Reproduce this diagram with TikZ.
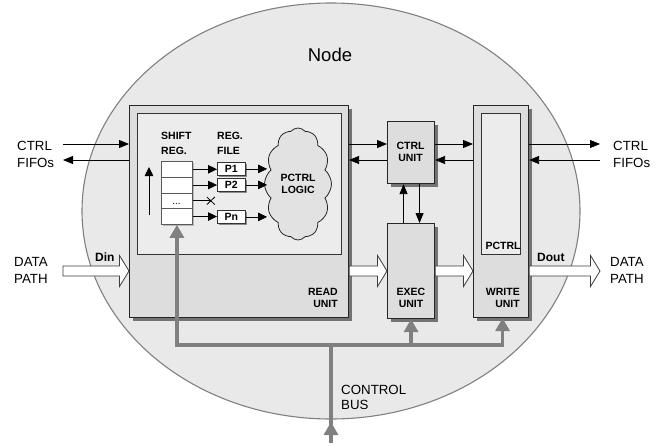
\documentclass[tikz,border=0pt]{standalone}
\usepackage{fontspec}
\setmainfont{Liberation Sans}
\usetikzlibrary{arrows.meta,shapes.geometric,shapes.symbols,shadows,calc}
\definecolor{ellfill}{RGB}{233,233,233}
\definecolor{unitfill}{RGB}{221,221,221}
\definecolor{innerfill}{RGB}{236,236,236}
\definecolor{cloudfill}{RGB}{226,226,226}
\definecolor{shadowgray}{RGB}{115,115,115}
\definecolor{lightshadow}{RGB}{185,185,185}
\definecolor{busgray}{RGB}{128,128,128}
\definecolor{edgegray}{RGB}{128,128,128}
\definecolor{fatedge}{RGB}{60,60,60}
\newcommand\fatarrow[2]{%
  \draw[fatarr] let \p1=(#1), \p2=(#2) in
    (\x1,{\y1+5pt}) -- ({\x2-9.5pt},{\y1+5pt}) -- ({\x2-9.5pt},{\y1+15.5pt})
    -- (\x2,\y1) -- ({\x2-9.5pt},{\y1-15.5pt}) -- ({\x2-9.5pt},{\y1-5pt})
    -- (\x1,{\y1-5pt}) -- cycle;}
\begin{document}
\begin{tikzpicture}[x=1pt,y=-1pt,
  lab/.style={font=\fontsize{13.3}{17}\selectfont, align=left, inner sep=0pt},
  blab/.style={font=\fontsize{10.5}{12}\selectfont\bfseries, inner sep=0pt},
  dlab/.style={font=\fontsize{12}{14}\selectfont\bfseries, inner sep=0pt},
  unit/.style={draw=black!85, line width=1.1pt, fill=unitfill, anchor=north west,
    inner sep=0pt, drop shadow={shadow xshift=3pt,shadow yshift=-3pt,fill=shadowgray,opacity=1}},
  innerbox/.style={draw=black!80, line width=0.9pt, fill=innerfill, anchor=north west, inner sep=0pt},
  cell/.style={draw=black!65, line width=0.8pt, fill=white, anchor=north west, inner sep=0pt,
    minimum width=31pt, minimum height=15.75pt,
    drop shadow={shadow xshift=1.5pt,shadow yshift=-1.5pt,fill=lightshadow,opacity=1}},
  preg/.style={draw=black!80, line width=0.8pt, fill=white, anchor=north west, inner sep=0pt,
    minimum width=28pt, minimum height=13pt, font=\fontsize{10.5}{12}\selectfont\bfseries,
    drop shadow={shadow xshift=1.5pt,shadow yshift=-1.5pt,fill=black!45,opacity=1}},
  thinarr/.style={-{Triangle[length=10pt,width=8pt]}, line width=0.8pt, black},
  smallarr/.style={-{Triangle[length=9pt,width=8.5pt]}, line width=0.8pt, black},
  fatarr/.style={draw=fatedge, line width=0.8pt, fill=white, line join=miter},
  bus/.style={draw=busgray, line width=3.2pt},
  busarr/.style={bus, -{Triangle[length=13pt,width=14pt]}},
]
\useasboundingbox (0,0) rectangle (662,445);

% enclosing node
\node[ellipse, draw=edgegray, line width=1.1pt, fill=ellfill, minimum width=498pt,
  minimum height=416pt, inner sep=0pt] (nodeell) at (331,211) {};
\node[font=\fontsize{18.5}{22}\selectfont, inner sep=0pt] (title) at (330,55) {Node};

% units
\node[unit, minimum width=219pt, minimum height=212pt] (read) at (129,105) {};
\node[innerbox, minimum width=204pt, minimum height=141pt] (readin) at (137,113) {};
\node[unit, minimum width=47pt, minimum height=62pt] (ctrl) at (387,121) {};
\node[unit, minimum width=47pt, minimum height=95pt] (exec) at (387,223) {};
\node[unit, minimum width=55pt, minimum height=212pt] (write) at (473,105) {};
\node[innerbox, minimum width=39pt, minimum height=141pt] (writein) at (481,113) {};

% unit labels
\node[blab, align=center] (ctrllab) at (410.5,151.5) {CTRL\\UNIT};
\node[blab, align=right, anchor=east] (readlab) at (338,298) {READ\\UNIT};
\node[blab, align=center] (execlab) at (411,298) {EXEC\\UNIT};
\node[blab, align=right, anchor=east] (writelab) at (520,298) {WRITE\\UNIT};
\node[blab] (pctrlw) at (503,246) {PCTRL};

% shift register and register file
\node[blab, align=left, anchor=west, font=\fontsize{10.5}{15}\selectfont\bfseries] (srlab) at (161,143.25) {SHIFT\\REG.};
\node[blab, align=left, anchor=west, font=\fontsize{10.5}{15}\selectfont\bfseries] (rflab) at (217,143.25) {REG.\\FILE};
\node[cell] (sr1) at (161,161) {};
\node[cell] (sr2) at (161,176.75) {};
\node[cell] (sr3) at (161,192.5) {};
\node[cell] (sr4) at (161,208.25) {};
\node[font=\fontsize{10}{12}\selectfont, inner sep=0pt] (dots) at (176.5,203.5) {...};
\node[preg] (p1) at (217,162) {P1};
\node[preg] (p2) at (217,178) {P2};
\node[preg] (pn) at (217,210) {Pn};
\node[cloud, draw=black!85, line width=0.8pt, fill=cloudfill, cloud puffs=12, cloud puff arc=100,
  cloud ignores aspect, minimum width=67pt, minimum height=112pt, inner sep=0pt,
  align=center, font=\fontsize{10.5}{12}\selectfont\bfseries] (logic) at (298,184) {PCTRL\\LOGIC};

\coordinate (ua) at (149,215);
\draw[smallarr] (ua) -- ++(0,-48);
\draw[smallarr] (sr1.east) -- (sr1.east -| p1.west);
\draw[smallarr] (sr2.east) -- (sr2.east -| p2.west);
\draw[smallarr] (sr4.east) -- (sr4.east -| pn.west);
\coordinate (xc) at ($(sr3.east)+(18,0)$);
\draw[line width=0.8pt] (sr3.east) -- (xc);
\draw[line width=0.8pt] ($(xc)+(-4,-3.8)$) -- ($(xc)+(4,3.8)$) ($(xc)+(-4,3.8)$) -- ($(xc)+(4,-3.8)$);
\draw[smallarr, shorten >=-3pt] (p1.east) -- (p1.east -| logic.west);
\draw[smallarr, shorten >=-3pt] (p2.east) -- (p2.east -| logic.west);
\draw[smallarr, shorten >=-3pt] (pn.east) -- (pn.east -| logic.west);

% control FIFO arrows
\coordinate (lc1) at (63,144);
\coordinate (lc2) at (63,160);
\coordinate (rc1) at (600,144);
\coordinate (rc2) at (600,160);
\draw[thinarr] (lc1) -- (lc1 -| read.west);
\draw[thinarr] (lc2 -| read.west) -- (lc2);
\draw[thinarr] (read.east |- lc1) -- (ctrl.west |- lc1);
\draw[thinarr] (ctrl.west |- lc2) -- (read.east |- lc2);
\draw[thinarr] (ctrl.east |- lc1) -- (write.west |- lc1);
\draw[thinarr] (write.west |- lc2) -- (ctrl.east |- lc2);
\draw[thinarr] (write.east |- rc1) -- (rc1);
\draw[thinarr] (rc2) -- (write.east |- rc2);
\draw[thinarr] ([xshift=-7.5pt]exec.north) -- ([xshift=-7.5pt]ctrl.south);
\draw[thinarr] ([xshift=8.5pt]ctrl.south) -- ([xshift=8.5pt]exec.north);

% data path
\coordinate (din0) at (63,271);
\coordinate (dout0) at (600,271);
\fatarrow{din0}{read.west |- din0}
\fatarrow{read.east |- din0}{exec.west |- din0}
\fatarrow{exec.east |- din0}{write.west |- din0}
\fatarrow{write.east |- din0}{dout0}
\node[dlab, anchor=west] (dinlab) at (95,257.5) {Din};
\node[dlab, anchor=west] (doutlab) at (537,257.5) {Dout};

% outside labels
\node[lab, anchor=west] (lfifo) at (17,154) {CTRL\\FIFOs};
\node[lab, anchor=west] (rfifo) at (613,154) {CTRL\\FIFOs};
\node[lab, anchor=west] (ldata) at (14,270.5) {DATA\\PATH};
\node[lab, anchor=west] (rdata) at (610,270.5) {DATA\\PATH};

% control bus
\coordinate (busin) at (331,443);
\coordinate (busj) at (331,345);
\draw[bus] (busin) -- (busj);
\draw[busarr] (busin) -- ++(0,-21);
\draw[busarr] (busj) -| (sr4.south);
\draw[busarr] (busj) -| (exec.south);
\draw[busarr] (busj) -| ([xshift=1.5pt]write.south);
\node[lab, anchor=west, font=\fontsize{13.3}{15}\selectfont] (buslab) at (341,397) {CONTROL\\BUS};
\end{tikzpicture}
\end{document}
